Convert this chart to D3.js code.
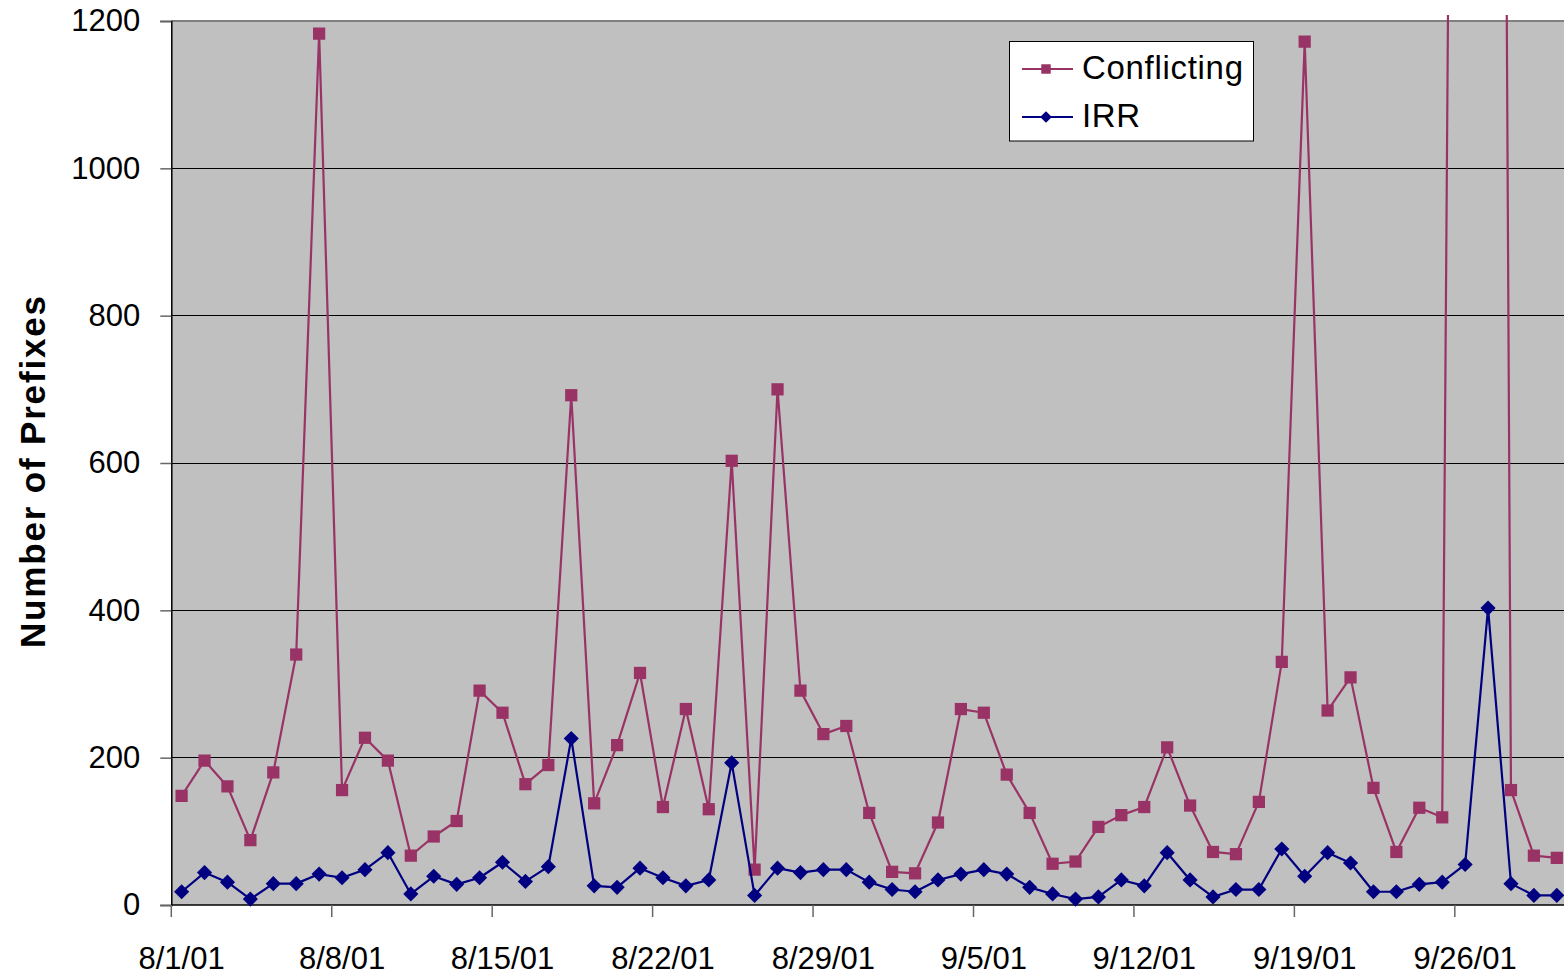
<!DOCTYPE html>
<html>
<head>
<meta charset="utf-8">
<script src="https://cdn.jsdelivr.net/npm/d3@7"></script>
<style>
  html, body { margin: 0; padding: 0; background: #ffffff; }
  svg { display: block; font-family: "Liberation Sans", Arial, sans-serif; }
</style>
</head>
<body>
<svg id="chart" width="1564" height="978"></svg>
<script>
// Daily dates, 1 Aug 2001 – 30 Sep 2001
const dates = [
  "8/1/01","8/2/01","8/3/01","8/4/01","8/5/01","8/6/01","8/7/01","8/8/01","8/9/01","8/10/01",
  "8/11/01","8/12/01","8/13/01","8/14/01","8/15/01","8/16/01","8/17/01","8/18/01","8/19/01","8/20/01",
  "8/21/01","8/22/01","8/23/01","8/24/01","8/25/01","8/26/01","8/27/01","8/28/01","8/29/01","8/30/01",
  "8/31/01","9/1/01","9/2/01","9/3/01","9/4/01","9/5/01","9/6/01","9/7/01","9/8/01","9/9/01",
  "9/10/01","9/11/01","9/12/01","9/13/01","9/14/01","9/15/01","9/16/01","9/17/01","9/18/01","9/19/01",
  "9/20/01","9/21/01","9/22/01","9/23/01","9/24/01","9/25/01","9/26/01","9/27/01","9/28/01","9/29/01",
  "9/30/01"
];

const conflicting = [
  148, 196, 161, 88, 180, 340, 1183, 156, 227, 196,
  67, 93, 114, 291, 261, 164, 190, 692, 138, 217,
  315, 133, 266, 130, 603, 48, 700, 291, 232, 243,
  125, 45, 43, 112, 266, 261, 177, 125, 56, 59,
  106, 122, 133, 214, 135, 72, 69, 140, 330, 1172,
  264, 309, 159, 72, 132, 119, 4450, 5900, 156, 67,
  64
];

const irr = [
  18, 44, 31, 8, 29, 29, 42, 37, 48, 71,
  15, 39, 28, 37, 58, 32, 52, 226, 26, 24,
  50, 37, 26, 34, 193, 13, 50, 44, 48, 48,
  31, 21, 18, 34, 42, 48, 42, 24, 15, 8,
  11, 34, 26, 71, 34, 11, 21, 21, 76, 39,
  71, 57, 18, 18, 28, 31, 55, 403, 29, 13,
  13
];

const yTicks = [0, 200, 400, 600, 800, 1000, 1200];
const xTickLabels = ["8/1/01","8/8/01","8/15/01","8/22/01","8/29/01","9/5/01","9/12/01","9/19/01","9/26/01"];

const seriesNames = ["Conflicting", "IRR"];
const seriesColors = ["#993366", "#000080"];

const W = 1564, H = 978;
const plot = { left: 171.3, top: 21, bottom: 905, step: 22.92 };
plot.right = plot.left + plot.step * dates.length;

const svg = d3.select("#chart");

const x = d3.scaleBand().domain(dates).range([plot.left, plot.right]).padding(0);
const y = d3.scaleLinear().domain([0, 1200]).range([plot.bottom, plot.top]);
const cx = d => x(d) + x.bandwidth() * 0.45;

// plot background
svg.append("rect")
  .attr("x", plot.left).attr("y", plot.top)
  .attr("width", plot.right - plot.left).attr("height", plot.bottom - plot.top)
  .attr("fill", "#c0c0c0");

// horizontal gridlines
svg.append("g").selectAll("line")
  .data(yTicks.filter(v => v > 0 && v < 1200))
  .join("line")
  .attr("x1", plot.left).attr("x2", plot.right)
  .attr("y1", d => y(d)).attr("y2", d => y(d))
  .attr("stroke", "#000").attr("stroke-width", 1).attr("shape-rendering", "crispEdges");

// plot-area top border
svg.append("line")
  .attr("x1", plot.left).attr("x2", plot.right)
  .attr("y1", y(1200)).attr("y2", y(1200))
  .attr("stroke", "#808080").attr("stroke-width", 2);

// y axis
const yAxis = d3.axisLeft(y).tickValues(yTicks).tickSize(11).tickPadding(20).tickFormat(d3.format("d"));
const gy = svg.append("g").attr("transform", `translate(${plot.left},0)`).call(yAxis);
gy.select(".domain").attr("stroke", "#000").attr("stroke-width", 1.5);
gy.selectAll(".tick line").attr("stroke", "#666").attr("stroke-width", 1.5);
gy.selectAll(".tick text")
  .attr("font-family", "'Liberation Sans', Arial, sans-serif")
  .attr("font-size", 31).attr("fill", "#000");

// x axis: tick marks at category boundaries, labels centred on the points
const gx = svg.append("g");
gx.append("line")
  .attr("x1", plot.left).attr("x2", plot.right)
  .attr("y1", plot.bottom).attr("y2", plot.bottom)
  .attr("stroke", "#000").attr("stroke-width", 1.5);
gx.selectAll("line.tick")
  .data(xTickLabels)
  .join("line").attr("class", "tick")
  .attr("x1", d => x(d)).attr("x2", d => x(d))
  .attr("y1", plot.bottom).attr("y2", plot.bottom + 12)
  .attr("stroke", "#666").attr("stroke-width", 1.5);
gx.selectAll("text")
  .data(xTickLabels)
  .join("text")
  .attr("x", d => cx(d)).attr("y", 969)
  .attr("text-anchor", "middle")
  .attr("font-size", 31).attr("fill", "#000")
  .text(d => d);

// y axis title
svg.append("text")
  .attr("transform", "translate(45,472) rotate(-90)")
  .attr("text-anchor", "middle")
  .attr("font-size", 35).attr("font-weight", "bold").attr("fill", "#000")
  .attr("textLength", 352).attr("lengthAdjust", "spacing")
  .text("Number of Prefixes");

// series, clipped just above the plot top
svg.append("clipPath").attr("id", "plotClip")
  .append("rect")
  .attr("x", plot.left).attr("y", plot.top - 6)
  .attr("width", W - plot.left).attr("height", plot.bottom - plot.top + 20);

const lineGen = d3.line().x(d => cx(d.date)).y(d => y(d.value));
const series = [
  { name: seriesNames[0], color: seriesColors[0], values: conflicting, marker: d3.symbolSquare, size: 150, rot: 0 },
  { name: seriesNames[1], color: seriesColors[1], values: irr, marker: d3.symbolSquare, size: 115, rot: 45 }
];

const gs = svg.append("g").attr("clip-path", "url(#plotClip)");
series.forEach(s => {
  const pts = dates.map((d, i) => ({ date: d, value: s.values[i] }));
  gs.append("path")
    .datum(pts)
    .attr("d", lineGen)
    .attr("fill", "none")
    .attr("stroke", s.color)
    .attr("stroke-width", 2.2)
    .attr("stroke-linejoin", "round");
  gs.selectAll(null)
    .data(pts)
    .join("path")
    .attr("transform", d => `translate(${cx(d.date)},${y(d.value)}) rotate(${s.rot})`)
    .attr("d", d3.symbol().type(s.marker).size(s.size))
    .attr("fill", s.color);
});

// legend
const lg = svg.append("g");
lg.append("rect")
  .attr("x", 1009.5).attr("y", 41.5).attr("width", 244).attr("height", 99.5)
  .attr("fill", "#fff").attr("stroke", "#000").attr("stroke-width", 1);
const legendRows = [69, 117];
const legendTextLen = [161, 58];
series.forEach((s, i) => {
  const ly = legendRows[i];
  lg.append("line")
    .attr("x1", 1022).attr("x2", 1073).attr("y1", ly).attr("y2", ly)
    .attr("stroke", s.color).attr("stroke-width", 2);
  lg.append("path")
    .attr("transform", `translate(1046,${ly}) rotate(${s.rot})`)
    .attr("d", d3.symbol().type(s.marker).size(s.size * 0.6))
    .attr("fill", s.color);
  lg.append("text")
    .attr("x", 1082).attr("y", ly + 10)
    .attr("font-size", 33).attr("fill", "#000")
    .attr("textLength", legendTextLen[i]).attr("lengthAdjust", "spacing")
    .text(s.name);
});
</script>
</body>
</html>
